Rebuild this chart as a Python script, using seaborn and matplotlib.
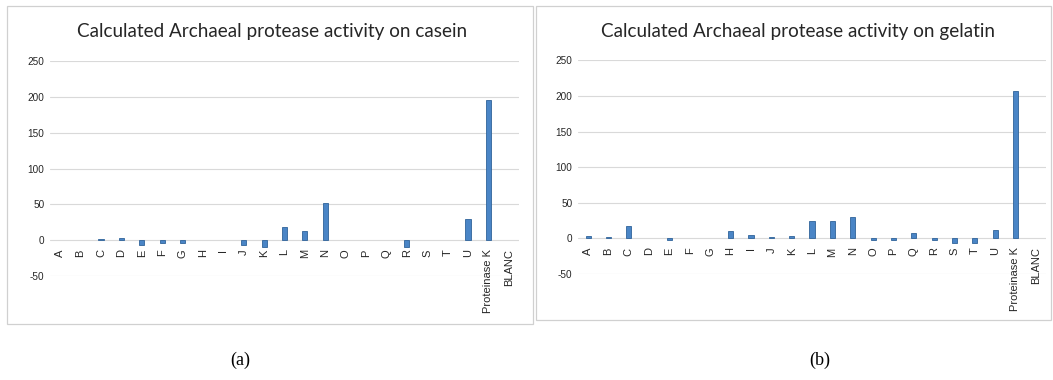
import matplotlib
matplotlib.use("Agg")
import matplotlib.pyplot as plt
import seaborn as sns
import pandas as pd
from matplotlib.patches import Rectangle

categories = ["A", "B", "C", "D", "E", "F", "G", "H", "I", "J", "K", "L", "M",
              "N", "O", "P", "Q", "R", "S", "T", "U", "Proteinase K", "BLANC"]
casein = [0, 0, 2, 3.5, -7, -4, -4, 0, 0, -7, -9, 19, 13,
          52, 0, 0, 0, -9, 0, 0, 30, 196, 0]
gelatin = [3, 2, 18, 0, -2, 0, 0, 10, 5, 2, 3, 25, 25,
           30, -2, -2, 8, -2, -7, -7, 12, 207, 0]
titles = ["Calculated Archaeal protease activity on casein",
          "Calculated Archaeal protease activity on gelatin"]
panel_labels = ["(a)", "(b)"]
yticks = [-50, 0, 50, 100, 150, 200, 250]

sns.set_theme(style="white")
plt.rcParams["font.family"] = ["Liberation Sans", "DejaVu Sans"]

W, H = 1053, 380
fig = plt.figure(figsize=(W / 100, H / 100), dpi=100)

def px_axes(l, r, t, b):
    return fig.add_axes([l / W, 1 - b / H, (r - l) / W, (b - t) / H])

panels = [
    dict(box=(7, 533, 6, 324), ax=(50, 519, 61.2, 276), title_x=272, lab_x=240, data=casein),
    dict(box=(536, 1051, 6, 320), ax=(578, 1046, 60.3, 274), title_x=798, lab_x=820, data=gelatin),
]

bar_color = "#4A85C6"
edge_color = "#2F639A"
grid_color = "#D9D9D9"
text_color = "#262626"

for i, p in enumerate(panels):
    bl, br, bt, bb = p["box"]
    fig.patches.append(Rectangle((bl / W, 1 - bb / H), (br - bl) / W, (bb - bt) / H,
                                 transform=fig.transFigure, fill=False,
                                 edgecolor="#D0D0D0", linewidth=0.9))
    ax = px_axes(*p["ax"])
    df = pd.DataFrame({"cat": categories, "val": p["data"]})
    sns.barplot(data=df, x="cat", y="val", ax=ax, color=bar_color, width=0.25,
                edgecolor=edge_color, linewidth=0.6, saturation=1, zorder=3)
    for patch in ax.patches:
        if patch.get_height() == 0:
            patch.set_visible(False)
    ax.set_xlim(-0.5, len(categories) - 0.5)
    ax.set_ylim(-50, 250)
    ax.set_yticks(yticks)
    ax.set_yticklabels([str(v) for v in yticks], fontsize=7.2, color=text_color)
    for v in yticks:
        ax.axhline(v, color=grid_color, linewidth=0.8, zorder=1)
    for s in ["top", "right", "left"]:
        ax.spines[s].set_visible(False)
    ax.spines["bottom"].set_position(("data", 0))
    ax.spines["bottom"].set_visible(False)
    ax.tick_params(axis="x", length=0, pad=6.5, labelsize=8, labelcolor=text_color)
    ax.tick_params(axis="y", length=0, pad=4)
    ax.set_xticks(range(len(categories)))
    ax.set_xticklabels(categories, rotation=90, va="top", ha="center")
    ax.set_xlabel("")
    ax.set_ylabel("")
    ax.patch.set_alpha(0)
    fig.text(p["title_x"] / W, 1 - 31 / H, titles[i], ha="center", va="center",
             fontsize=13.6, color=text_color, family=["Lato", "DejaVu Sans"])
    fig.text(p["lab_x"] / W, 1 - 360 / H, panel_labels[i], ha="center", va="center",
             fontsize=13, color="black", family=["Liberation Serif", "DejaVu Serif"])

fig.savefig("out.png", dpi=100, facecolor="white")
